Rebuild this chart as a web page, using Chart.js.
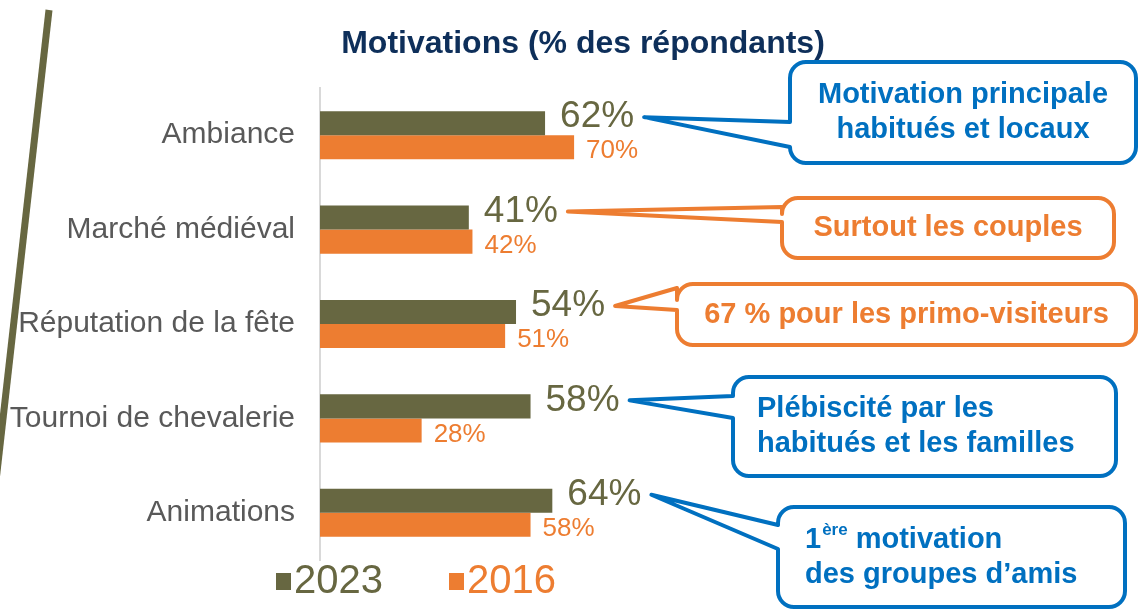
<!DOCTYPE html>
<html>
<head>
<meta charset="utf-8">
<script src="https://cdn.jsdelivr.net/npm/chart.js@4/dist/chart.umd.min.js"></script>
<style>
  html, body { margin: 0; padding: 0; background: #fff; }
  #wrap { width: 1138px; height: 609px; position: relative; }
</style>
</head>
<body>
<div id="wrap"><canvas id="motivChart"></canvas></div>
<script>
// Données du graphique
const categories = ['Ambiance', 'Marché médiéval', 'Réputation de la fête', 'Tournoi de chevalerie', 'Animations'];
const values2023 = [62, 41, 54, 58, 64];
const values2016 = [70, 42, 51, 28, 58];
const seriesNames = ['2023', '2016'];
const chartTitle = 'Motivations (% des répondants)';

// Textes des bulles (une par catégorie)
const calloutTexts = [
    ['Motivation principale', 'habitués et locaux'],
    ['Surtout les couples'],
    ['67 % pour les primo-visiteurs'],
    ['Plébiscité par les', 'habitués et les familles'],
    ['1ère motivation', 'des groupes d’amis']
];

// Couleurs
const OLIVE = '#676741';
const ORANGE = '#ED7D31';
const BLUE = '#0070C0';
const NAVY = '#0E2F5A';
const FONT = '"Liberation Sans", Arial, sans-serif';
const LABEL_FONT_2023 = '37px ' + FONT;
const LABEL_FONT_2016 = '26px ' + FONT;

// Mise en page des bulles (boîte + base de la pointe)
const calloutBoxes = [
    { x: 790, y: 62, w: 346, h: 101, b1: 122, b2: 147, color: BLUE, align: 'center' },
    { x: 782, y: 198, w: 332, h: 60, b1: 207, b2: 222, color: ORANGE, align: 'center' },
    { x: 677, y: 284, w: 459, h: 61, b1: 288, b2: 310, color: ORANGE, align: 'center' },
    { x: 733, y: 377, w: 383, h: 99, b1: 396, b2: 418, color: BLUE, align: 'left', tx: 757 },
    { x: 778, y: 507, w: 347, h: 100, b1: 525, b2: 549, color: BLUE, align: 'left', tx: 805 }
];

// Trait diagonal décoratif à gauche + titre
const decoLine = {
    id: 'decoLine',
    beforeDraw(chart) {
        const ctx = chart.ctx;
        ctx.save();
        ctx.strokeStyle = OLIVE;
        ctx.lineWidth = 7;
        ctx.beginPath();
        ctx.moveTo(49, 10);
        ctx.lineTo(-5, 490);
        ctx.stroke();

        ctx.fillStyle = NAVY;
        ctx.font = 'bold 32px ' + FONT;
        ctx.textAlign = 'center';
        ctx.textBaseline = 'middle';
        ctx.fillText(chartTitle, 583, 44);
        ctx.restore();
    }
};

// Étiquettes de valeurs au bout des barres
const valueLabels = {
    id: 'valueLabels',
    afterDatasetsDraw(chart) {
        const ctx = chart.ctx;
        ctx.save();
        ctx.textBaseline = 'middle';
        ctx.textAlign = 'left';
        chart.data.datasets.forEach((ds, i) => {
            const meta = chart.getDatasetMeta(i);
            meta.data.forEach((bar, j) => {
                if (i === 0) {
                    ctx.font = LABEL_FONT_2023;
                    ctx.fillStyle = OLIVE;
                    ctx.fillText(ds.data[j] + '%', bar.x + 15, bar.y - 6);
                } else {
                    ctx.font = LABEL_FONT_2016;
                    ctx.fillStyle = ORANGE;
                    ctx.fillText(ds.data[j] + '%', bar.x + 12, bar.y + 4);
                }
            });
        });
        ctx.restore();
    }
};

// Bulles de commentaires
const callouts = {
    id: 'callouts',
    afterDraw(chart) {
        const ctx = chart.ctx;
        const meta = chart.getDatasetMeta(0);
        ctx.save();
        calloutBoxes.forEach((b, i) => {
            const bar = meta.data[i];
            const label = chart.data.datasets[0].data[i] + '%';
            ctx.font = LABEL_FONT_2023;
            const tipX = bar.x + 15 + ctx.measureText(label).width + 10;
            const tipY = bar.y - 6;
            const r = 16;

            ctx.beginPath();
            ctx.moveTo(b.x + r, b.y);
            ctx.lineTo(b.x + b.w - r, b.y);
            ctx.arcTo(b.x + b.w, b.y, b.x + b.w, b.y + r, r);
            ctx.lineTo(b.x + b.w, b.y + b.h - r);
            ctx.arcTo(b.x + b.w, b.y + b.h, b.x + b.w - r, b.y + b.h, r);
            ctx.lineTo(b.x + r, b.y + b.h);
            ctx.arcTo(b.x, b.y + b.h, b.x, b.y + b.h - r, r);
            ctx.lineTo(b.x, b.b2);
            ctx.lineTo(tipX, tipY);
            ctx.lineTo(b.x, b.b1);
            ctx.lineTo(b.x, b.y + r);
            ctx.arcTo(b.x, b.y, b.x + r, b.y, r);
            ctx.closePath();
            ctx.fillStyle = '#fff';
            ctx.fill();
            ctx.lineWidth = 4;
            ctx.lineJoin = 'round';
            ctx.strokeStyle = b.color;
            ctx.stroke();

            // texte
            const lines = calloutTexts[i];
            const cy = b.y + b.h / 2;
            const step = 35;
            ctx.fillStyle = b.color;
            ctx.textBaseline = 'middle';
            lines.forEach((txt, k) => {
                const y = cy + (k - (lines.length - 1) / 2) * step;
                ctx.font = 'bold 29px ' + FONT;
                if (b.align === 'center') {
                    ctx.textAlign = 'center';
                    ctx.fillText(txt, b.x + b.w / 2, y);
                } else if (txt.startsWith('1ère')) {
                    // exposant "ère"
                    ctx.textAlign = 'left';
                    let x = b.tx;
                    ctx.fillText('1', x, y);
                    x += ctx.measureText('1').width + 1;
                    ctx.font = 'bold 17px ' + FONT;
                    ctx.fillText('ère', x, y - 9);
                    x += ctx.measureText('ère').width;
                    ctx.font = 'bold 29px ' + FONT;
                    ctx.fillText(txt.slice(4), x, y);
                } else {
                    ctx.textAlign = 'left';
                    ctx.fillText(txt, b.tx, y);
                }
            });
        });
        ctx.restore();
    }
};

// Légende personnalisée en bas
const bottomLegend = {
    id: 'bottomLegend',
    afterDraw(chart) {
        const ctx = chart.ctx;
        const starts = [276, 449];
        ctx.save();
        ctx.font = '40px ' + FONT;
        ctx.textBaseline = 'middle';
        ctx.textAlign = 'left';
        chart.data.datasets.forEach((ds, i) => {
            ctx.fillStyle = ds.backgroundColor;
            ctx.fillRect(starts[i], 573, 15, 17);
            ctx.fillText(ds.label, starts[i] + 18, 582);
        });
        ctx.restore();
    }
};

const ctxMotiv = document.getElementById('motivChart').getContext('2d');
const motivChart = new Chart(ctxMotiv, {
    type: 'bar',
    data: {
        labels: categories,
        datasets: [
            { label: seriesNames[0], data: values2023, backgroundColor: OLIVE },
            { label: seriesNames[1], data: values2016, backgroundColor: ORANGE }
        ]
    },
    options: {
        indexAxis: 'y',
        responsive: true,
        maintainAspectRatio: false,
        animation: false,
        layout: { padding: { top: 88, bottom: 49, right: 455, left: 0 } },
        datasets: {
            bar: { categoryPercentage: 0.51, barPercentage: 1.0 }
        },
        scales: {
            x: { display: false, min: 0, max: 100 },
            y: {
                afterFit: (scale) => { scale.width = 320; },
                grid: { drawOnChartArea: false, drawTicks: false },
                border: { display: true, color: '#D9D9D9', width: 2 },
                ticks: {
                    color: '#595959',
                    padding: 25,
                    font: { family: FONT, size: 30 }
                }
            }
        },
        plugins: {
            legend: { display: false },
            title: { display: false },
            tooltip: { enabled: false }
        }
    },
    plugins: [decoLine, valueLabels, callouts, bottomLegend]
});
</script>
</body>
</html>
